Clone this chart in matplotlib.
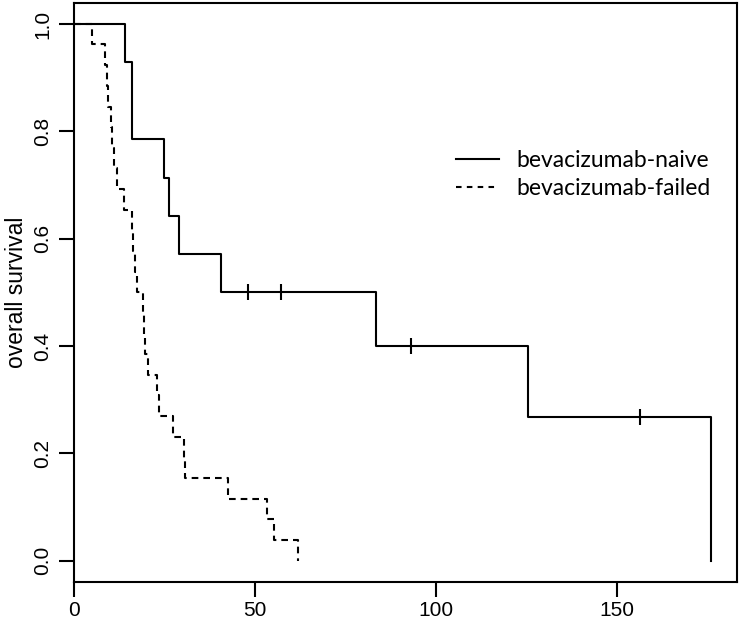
import matplotlib
matplotlib.use("Agg")
import matplotlib.pyplot as plt
from matplotlib.lines import Line2D

plt.rcParams['lines.scale_dashes'] = False

# --- data: Kaplan-Meier step curves (time, survival level after step) ---
naive_times = [0, 14.0, 15.9, 16.1, 24.9, 26.3, 28.9, 40.6, 83.5, 125.3, 176.0]
naive_surv = [1.0, 0.929, 0.857, 0.786, 0.714, 0.643, 0.571, 0.5, 0.4, 0.267, 0.0]
naive_censor_times = [48.0, 57.1, 93.1, 156.4]
naive_censor_surv = [0.5, 0.5, 0.4, 0.267]

failed_times = [0, 5.1, 8.7, 9.0, 9.4, 10.3, 10.6, 11.0, 12.0, 13.7, 16.0, 16.3,
                16.8, 17.4, 19.1, 19.4, 19.6, 20.5, 22.8, 23.4, 27.4, 30.4,
                30.8, 42.6, 53.2, 55.3, 61.8]
failed_surv = [1.0, 0.962, 0.923, 0.885, 0.846, 0.808, 0.769, 0.731, 0.692,
               0.654, 0.615, 0.577, 0.538, 0.5, 0.462, 0.423, 0.385, 0.346,
               0.308, 0.269, 0.231, 0.192, 0.154, 0.115, 0.077, 0.038, 0.0]

x_ticks = [0, 50, 100, 150]
y_ticks = [0.0, 0.2, 0.4, 0.6, 0.8, 1.0]
y_ticklabels = ["0.0", "0.2", "0.4", "0.6", "0.8", "1.0"]
legend_labels = ["bevacizumab-naive", "bevacizumab-failed"]
ylabel = "overall survival"

fig = plt.figure(figsize=(7.40, 6.23), dpi=100)
ax = fig.add_axes([74 / 740, (623 - 581.7) / 623, (736.7 - 74) / 740, (581.7 - 3.3) / 623])

lw = 1.5
dash = (0, (4.8, 3.6))
ax.step(naive_times, naive_surv, where='post', color='black', lw=lw)
ax.step(failed_times, failed_surv, where='post', color='black', lw=lw, linestyle=dash)
ax.plot(naive_censor_times, naive_censor_surv, linestyle='none', marker='|',
        markersize=12, markeredgewidth=lw, color='black')

ax.set_xlim(0, 183.1)
ax.set_ylim(-0.039, 1.0386)
ax.set_xticks(x_ticks)
ax.set_yticks(y_ticks)
ax.set_yticklabels(y_ticklabels, rotation=90, va='center')
for s in ax.spines.values():
    s.set_linewidth(1.5)
ax.tick_params(axis='both', length=10.6, width=1.5, labelsize=15, direction='out')
ax.tick_params(axis='x', pad=3.5)
ax.tick_params(axis='y', pad=5)
for lab in ax.get_xticklabels() + ax.get_yticklabels():
    lab.set_fontfamily('Liberation Sans')
ax.set_ylabel(ylabel, fontsize=16.5, family='Liberation Sans', labelpad=4)

handles = [Line2D([], [], color='black', lw=lw),
           Line2D([], [], color='black', lw=lw, linestyle=(0, (4.0, 3.8)))]
ax.legend(handles, legend_labels, loc='upper left',
          bbox_to_anchor=(456 / 740, 1 - 150 / 623), bbox_transform=fig.transFigure,
          frameon=False, prop={'family': 'Lato', 'size': 16.5},
          handlelength=1.88, handletextpad=0.76, labelspacing=0.3, borderaxespad=0, borderpad=0)

fig.savefig("out.png", dpi=100)
